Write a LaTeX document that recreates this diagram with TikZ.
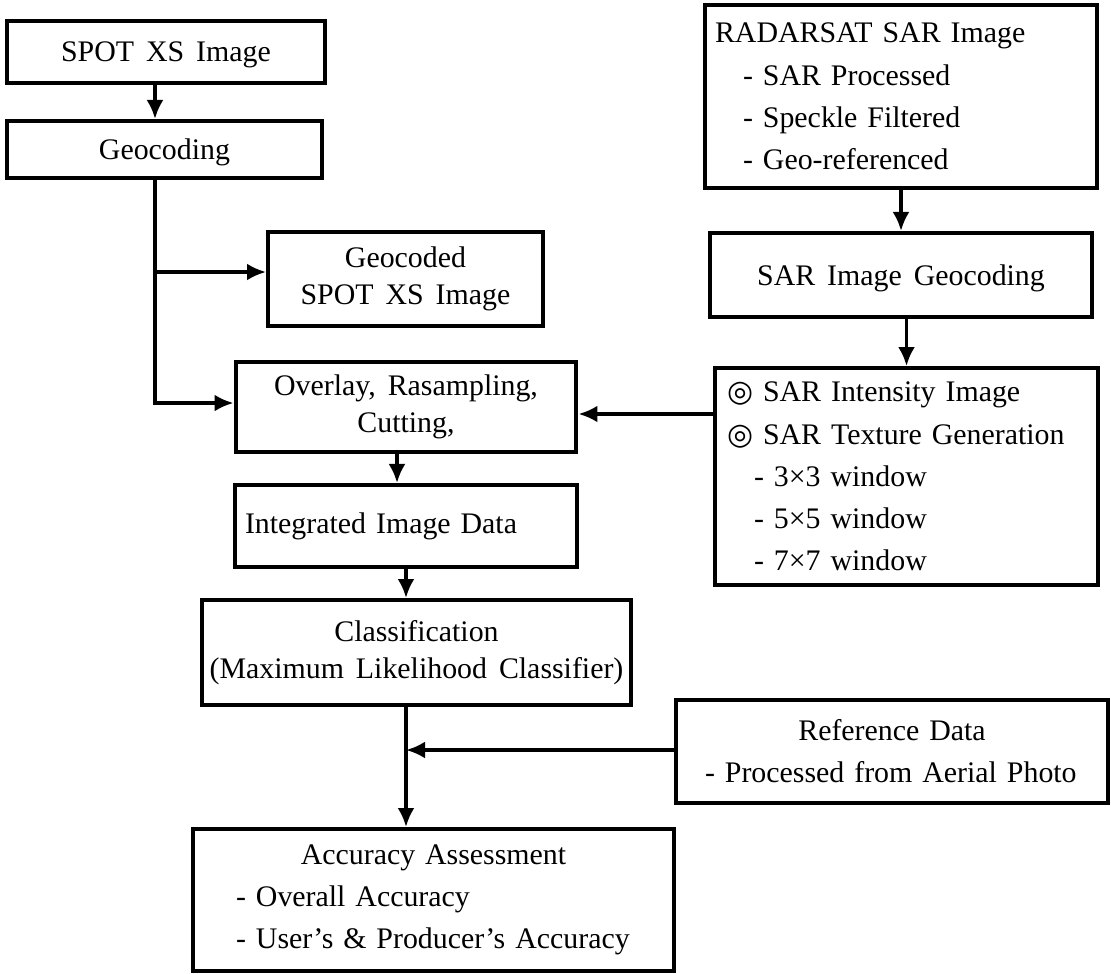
\documentclass[tikz,border=0pt]{standalone}
\usepackage{fontspec}
\setmainfont[WordSpace=1.6]{Liberation Serif}
\newfontfamily\symfont{DejaVu Sans}
\usetikzlibrary{%
  arrows.meta%
}
\tikzset{>={Latex[length=0.38cm,width=0.34cm]}}
\tikzset{
  blk/.style={draw, line width=2.3pt, align=center, inner sep=0pt,
    font={\fontsize{17}{21}\selectfont}},
  lst/.style={draw, line width=2.3pt, align=left, inner xsep=0.2cm,
    inner ysep=0pt, font={\fontsize{17}{24}\selectfont}},
  flow/.style={line width=2pt, ->}
}
\newcommand{\dcirc}{{\symfont\char"25CE}}

\begin{document}
\begin{tikzpicture}[x=0.02cm, y=-0.02cm]
    \useasboundingbox (0,0) rectangle (1111,973);
    % left column
    \node[blk, text depth=0pt, minimum width=6.36cm, minimum height=1.24cm] (spot) at (166,52) {SPOT XS Image};
    \node[blk, text depth=0pt, minimum width=6.30cm, minimum height=1.14cm] (geo) at (164.5,149.5) {Geocoding};
    \node[blk, minimum width=5.50cm, minimum height=1.88cm] (geocoded) at (405.5,279) {Geocoded\\SPOT XS Image};
    \node[blk, minimum width=6.82cm, minimum height=1.80cm] (overlay) at (406,407) {Overlay, Rasampling,\\Cutting,};
    \node[lst, text width=6.44cm, minimum height=1.64cm] (integ) at (406,526) {Integrated Image Data};
    \node[blk, minimum width=8.58cm, minimum height=2.10cm] (classif) at (416.5,652.5) {Classification\\(Maximum Likelihood Classifier)};
    \node[lst, text width=9.22cm, minimum height=2.84cm] (accur) at (433.5,900) {\makebox[\linewidth]{Accuracy Assessment}\\
      \hspace*{0.66cm}- Overall Accuracy\\
      \hspace*{0.66cm}- User's \& Producer's Accuracy};
    % right column
    \node[lst, text width=7.44cm, minimum height=3.66cm] (radarsat) at (901,96.5) {RADARSAT SAR Image\\
      \hspace*{0.56cm}- SAR Processed\\
      \hspace*{0.56cm}- Speckle Filtered\\
      \hspace*{0.56cm}- Geo-referenced};
    \node[blk, text depth=0pt, minimum width=7.64cm, minimum height=1.68cm] (sargeo) at (901,275) {SAR Image Geocoding};
    \node[lst, inner xsep=0.24cm, text width=7.18cm, minimum height=4.34cm] (sarbox) at (906.5,476.5) {\dcirc{} SAR Intensity Image\\
      \dcirc{} SAR Texture Generation\\
      \hspace*{0.54cm}- 3×3 window\\
      \hspace*{0.54cm}- 5×5 window\\
      \hspace*{0.54cm}- 7×7 window};
    \node[lst, text width=8.24cm, minimum height=2.06cm] (refdata) at (892,751.5) {\makebox[\linewidth]{Reference Data}\\
      \hspace*{0.38cm}- Processed from Aerial Photo};
    % connectors
    \coordinate (tap) at (155,272);
    \coordinate (merge) at (406,750);
    \draw[flow] (spot.south -| tap) -- (geo.north -| tap);
    \draw[flow] (geo.south -| tap) |- ([yshift=0.08cm]overlay.west);
    \draw[flow] (tap) -- (tap -| geocoded.west);
    \draw[flow] (radarsat) -- (sargeo);
    \draw[flow] (sargeo.south -| sarbox.north) -- (sarbox.north);
    \draw[flow] ([yshift=-0.14cm]overlay.east -| sarbox.west) -- ([yshift=-0.14cm]overlay.east);
    \draw[flow] ([xshift=-0.18cm]overlay.south) -- ([xshift=-0.18cm]integ.north);
    \draw[flow] (integ.south) -- (integ.south |- classif.north);
    \draw[flow] (classif.south -| merge) -- (accur.north -| merge);
    \draw[flow] (refdata.west |- merge) -- (merge);
\end{tikzpicture}
\end{document}
